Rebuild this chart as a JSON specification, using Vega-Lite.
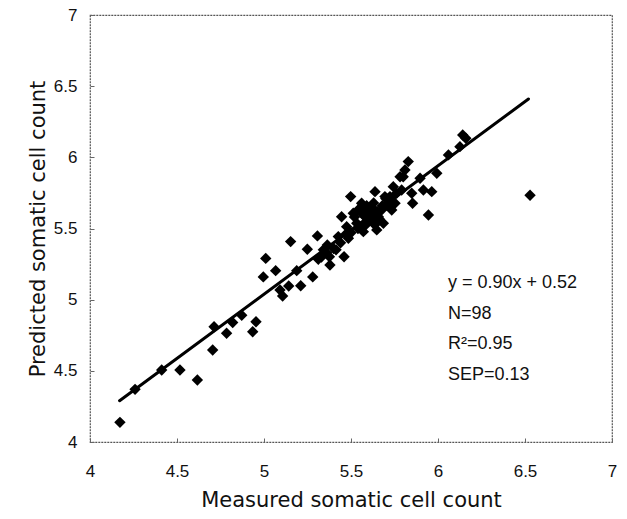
{
  "$schema": "https://vega.github.io/schema/vega-lite/v6.json",
  "width": 522,
  "height": 427,
  "autosize": {"type": "none"},
  "padding": {"left": 90, "top": 15, "right": 15, "bottom": 77},
  "background": "white",
  "config": {
    "view": {"stroke": "#555", "strokeWidth": 1.2, "strokeDash": [2, 1]},
    "font": "Liberation Sans"
  },
  "datasets": {
    "pts": [
      {"m": 4.172, "p": 4.138}, {"m": 4.259, "p": 4.37}, {"m": 4.412, "p": 4.506}, {"m": 4.517, "p": 4.506},
      {"m": 4.617, "p": 4.436}, {"m": 4.705, "p": 4.646}, {"m": 4.713, "p": 4.81}, {"m": 4.785, "p": 4.764},
      {"m": 4.82, "p": 4.84}, {"m": 4.872, "p": 4.89}, {"m": 4.935, "p": 4.775}, {"m": 4.954, "p": 4.845},
      {"m": 4.996, "p": 5.16}, {"m": 5.01, "p": 5.29}, {"m": 5.067, "p": 5.204}, {"m": 5.092, "p": 5.068},
      {"m": 5.107, "p": 5.026}, {"m": 5.142, "p": 5.096}, {"m": 5.153, "p": 5.408}, {"m": 5.188, "p": 5.204},
      {"m": 5.211, "p": 5.098}, {"m": 5.249, "p": 5.354}, {"m": 5.28, "p": 5.16}, {"m": 5.307, "p": 5.448},
      {"m": 5.312, "p": 5.284}, {"m": 5.341, "p": 5.35}, {"m": 5.364, "p": 5.384}, {"m": 5.379, "p": 5.244},
      {"m": 5.376, "p": 5.302}, {"m": 5.414, "p": 5.35}, {"m": 5.427, "p": 5.443}, {"m": 5.446, "p": 5.583},
      {"m": 5.46, "p": 5.302}, {"m": 5.475, "p": 5.513}, {"m": 5.498, "p": 5.724}, {"m": 5.485, "p": 5.431},
      {"m": 5.513, "p": 5.607}, {"m": 5.533, "p": 5.537}, {"m": 5.54, "p": 5.63}, {"m": 5.561, "p": 5.677},
      {"m": 5.571, "p": 5.478}, {"m": 5.58, "p": 5.583}, {"m": 5.6, "p": 5.63}, {"m": 5.61, "p": 5.572},
      {"m": 5.625, "p": 5.642}, {"m": 5.638, "p": 5.759}, {"m": 5.628, "p": 5.537}, {"m": 5.648, "p": 5.49},
      {"m": 5.657, "p": 5.583}, {"m": 5.676, "p": 5.63}, {"m": 5.686, "p": 5.537}, {"m": 5.695, "p": 5.724},
      {"m": 5.705, "p": 5.665}, {"m": 5.724, "p": 5.724}, {"m": 5.734, "p": 5.63}, {"m": 5.743, "p": 5.794},
      {"m": 5.753, "p": 5.677}, {"m": 5.762, "p": 5.748}, {"m": 5.782, "p": 5.864}, {"m": 5.8, "p": 5.864},
      {"m": 5.791, "p": 5.77}, {"m": 5.81, "p": 5.911}, {"m": 5.829, "p": 5.97}, {"m": 5.854, "p": 5.677},
      {"m": 5.849, "p": 5.748}, {"m": 5.897, "p": 5.853}, {"m": 5.916, "p": 5.771}, {"m": 5.945, "p": 5.595},
      {"m": 5.964, "p": 5.759}, {"m": 5.993, "p": 5.888}, {"m": 6.06, "p": 6.017}, {"m": 6.126, "p": 6.075},
      {"m": 6.142, "p": 6.157}, {"m": 6.16, "p": 6.134}, {"m": 6.529, "p": 5.734},
      {"m": 5.52, "p": 5.58}, {"m": 5.55, "p": 5.62}, {"m": 5.57, "p": 5.6}, {"m": 5.59, "p": 5.66},
      {"m": 5.6, "p": 5.55}, {"m": 5.62, "p": 5.6}, {"m": 5.63, "p": 5.68}, {"m": 5.65, "p": 5.62},
      {"m": 5.66, "p": 5.57}, {"m": 5.58, "p": 5.52}, {"m": 5.54, "p": 5.5}, {"m": 5.5, "p": 5.47},
      {"m": 5.47, "p": 5.46}, {"m": 5.44, "p": 5.4}, {"m": 5.4, "p": 5.36}, {"m": 5.36, "p": 5.33},
      {"m": 5.33, "p": 5.3}, {"m": 5.68, "p": 5.66}, {"m": 5.7, "p": 5.71}, {"m": 5.72, "p": 5.67},
      {"m": 5.56, "p": 5.65}, {"m": 5.61, "p": 5.64}, {"m": 5.64, "p": 5.53}
    ],
    "fit": [
      {"m": 4.17, "p": 4.29},
      {"m": 6.52, "p": 6.41}
    ],
    "note": [
      {"m": 6.057, "p": 5.08, "label": "y = 0.90x + 0.52\nN=98\nR²=0.95\nSEP=0.13"}
    ]
  },
  "encoding": {
    "x": {
      "field": "m", "type": "quantitative",
      "scale": {"domain": [4, 7], "nice": false, "zero": false},
      "axis": {
        "title": "Measured somatic cell count",
        "values": [4, 4.5, 5, 5.5, 6, 6.5, 7], "format": "~g",
        "grid": false, "domain": false,
        "tickSize": -4, "tickColor": "#666", "tickWidth": 1,
        "labelFontSize": 17, "labelColor": "#111", "labelPadding": 25,
        "labelFont": "Liberation Sans", "labelFlush": false, "labelOverlap": false,
        "titleFont": "DejaVu Sans", "titleFontSize": 21, "titleFontWeight": "normal", "titleColor": "#111",
        "titleX": 261, "titleY": 64, "titleBaseline": "alphabetic", "titleAnchor": "middle", "titleAlign": "center"
      }
    },
    "y": {
      "field": "p", "type": "quantitative",
      "scale": {"domain": [4, 7], "nice": false, "zero": false},
      "axis": {
        "title": "Predicted somatic cell count",
        "values": [4, 4.5, 5, 5.5, 6, 6.5, 7], "format": "~g",
        "grid": false, "domain": false,
        "tickSize": -4, "tickColor": "#666", "tickWidth": 1,
        "labelFontSize": 17, "labelColor": "#111", "labelPadding": 17,
        "labelFont": "Liberation Sans", "labelFlush": false, "labelOverlap": false,
        "titleFont": "DejaVu Sans", "titleFontSize": 21, "titleFontWeight": "normal", "titleColor": "#111",
        "titleX": -46, "titleY": 213.5, "titleAngle": -90, "titleBaseline": "alphabetic", "titleAlign": "center"
      }
    }
  },
  "layer": [
    {
      "data": {"name": "fit"},
      "mark": {"type": "line", "color": "black", "strokeWidth": 3, "strokeCap": "round"}
    },
    {
      "data": {"name": "pts"},
      "mark": {"type": "point", "shape": "diamond", "filled": true, "color": "black", "opacity": 1, "size": 130}
    },
    {
      "data": {"name": "note"},
      "mark": {
        "type": "text", "align": "left", "baseline": "alphabetic", "lineBreak": "\n",
        "font": "Liberation Sans", "fontSize": 18, "lineHeight": 30.5, "color": "#111"
      },
      "encoding": {
        "text": {"field": "label", "type": "nominal"}
      }
    }
  ]
}
